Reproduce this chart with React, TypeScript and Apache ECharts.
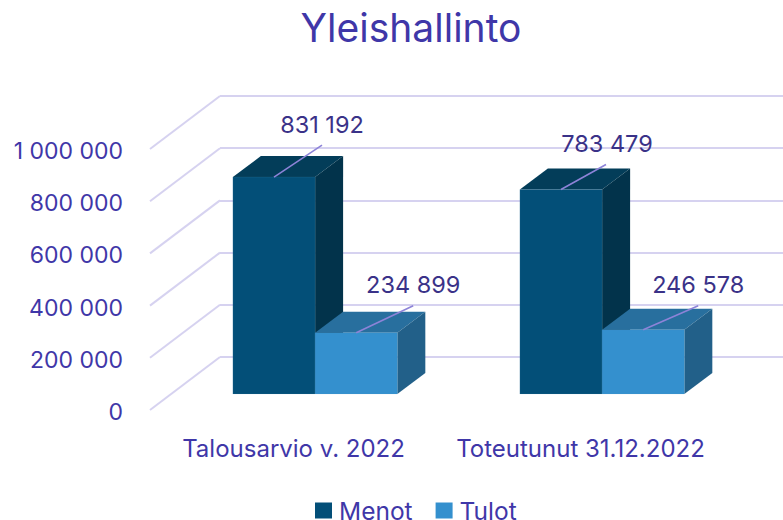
import React, { useEffect, useRef } from "react";
import * as echarts from "echarts";

const titleText = "Yleishallinto";
const categories = ["Talousarvio v. 2022", "Toteutunut 31.12.2022"];
const menot = [831192, 783479];
const tulot = [234899, 246578];
const tickValues = [0, 200000, 400000, 600000, 800000, 1000000];

const FONT = "Inter";
const TEXT = "#3f37a8";
const LABEL = "#3a3288";
const GRID = "#d6d2f0";
const LEADER = "#8d83d8";
const WALL = [70, -53];
const FLOOR = [21.6, -16];
const DEPTH = [28, -21];
const BAR_RATIO = 0.2865;

const spaced = (v: number) => String(v).replace(/\B(?=(\d{3})+(?!\d))/g, " ");

// leader end and label centre relative to the front-top centre of each bar
const menotLeader = [[48, -32, 48, -53], [45, -25, 46, -46]];
const tulotLeader = [[57, -27, 57, -48], [55, -24, 55, -45]];

function barRenderer(side: -1 | 1, colors: string[], leaders: number[][]) {
  return (params: any, api: any) => {
    const i = api.value(0);
    const v = api.value(1);
    const w = api.size([1, 0])[0] * BAR_RATIO;
    const top = api.coord([i, v]);
    const base = api.coord([i, 0]);
    const x0 = top[0] + FLOOR[0] + (side < 0 ? -w : 0);
    const x1 = x0 + w;
    const yT = top[1] + FLOOR[1];
    const yB = base[1] + FLOOR[1];
    const [dx, dy] = DEPTH;
    const cx = (x0 + x1) / 2;
    const l = leaders[i];
    return {
      type: "group",
      children: [
        { type: "polygon", shape: { points: [[x0, yT], [x1, yT], [x1 + dx, yT + dy], [x0 + dx, yT + dy]] }, style: { fill: colors[1] } },
        { type: "polygon", shape: { points: [[x1, yT], [x1 + dx, yT + dy], [x1 + dx, yB + dy], [x1, yB]] }, style: { fill: colors[2] } },
        { type: "rect", shape: { x: x0, y: yT, width: w, height: yB - yT }, style: { fill: colors[0], stroke: "rgba(120,170,200,0.2)", lineWidth: 0.6 } },
        { type: "line", shape: { x1: cx, y1: yT, x2: cx + l[0], y2: yT + l[1] }, style: { stroke: LEADER, lineWidth: 1.6 } },
        { type: "text", x: cx + l[2], y: yT + l[3], style: { text: spaced(v), fill: LABEL, font: `400 23.5px ${FONT}`, align: "center", verticalAlign: "middle" } },
      ],
    };
  };
}

export default function App() {
  const ref = useRef<HTMLDivElement>(null);
  useEffect(() => {
    document.body.style.margin = "0";
    const chart = echarts.init(ref.current!, undefined, { renderer: "svg" });
    chart.setOption({
      animation: false,
      textStyle: { fontFamily: FONT },
      title: {
        text: titleText,
        left: 406,
        top: 3,
        textAlign: "center",
        textStyle: { color: TEXT, fontSize: 39, fontWeight: 400, fontFamily: FONT },
      },
      legend: {
        left: 315,
        top: 498,
        padding: 0,
        itemWidth: 17,
        itemHeight: 16,
        itemGap: 23,
        textStyle: { color: TEXT, fontSize: 24.5, lineHeight: 17, fontFamily: FONT, padding: [0, 0, 0, 2] },
        data: [
          { name: "Menot", icon: "rect", itemStyle: { color: "#034f78" } },
          { name: "Tulot", icon: "rect", itemStyle: { color: "#3490ce" } },
        ],
      },
      grid: [
        { left: 150, top: 149, width: 574, height: 261 },
        { left: 220, top: 96, right: 0, height: 261 },
      ],
      xAxis: [
        {
          type: "category",
          gridIndex: 0,
          data: categories,
          axisLine: { show: false },
          axisTick: { show: false },
          axisLabel: { interval: 0, margin: 26, color: TEXT, fontSize: 24, fontFamily: FONT },
        },
        { type: "category", gridIndex: 1, data: categories, show: false },
      ],
      yAxis: [
        {
          type: "value",
          gridIndex: 0,
          min: 0,
          max: 1000000,
          interval: 200000,
          splitLine: { show: false },
          axisLine: { show: false },
          axisTick: { show: false },
          axisLabel: {
            margin: 27,
            formatter: (v: number) => `{t|${spaced(v)}}`,
            rich: { t: { color: TEXT, fontSize: 23, fontFamily: FONT, padding: [4, 0, 0, 0] } },
          },
        },
        {
          type: "value",
          gridIndex: 1,
          min: 0,
          max: 1000000,
          interval: 200000,
          axisLine: { show: false },
          axisTick: { show: false },
          axisLabel: { show: false },
          splitLine: { show: true, lineStyle: { color: GRID, width: 2 } },
        },
      ],
      series: [
        {
          type: "custom",
          name: "walls",
          silent: true,
          xAxisIndex: 0,
          yAxisIndex: 0,
          encode: { y: 0 },
          data: tickValues.map((v) => [v]),
          z: 1,
          renderItem: (p: any, api: any) => {
            const a = api.coord([0, api.value(0)]);
            const left = p.coordSys.x;
            return {
              type: "line",
              shape: { x1: left, y1: a[1], x2: left + WALL[0], y2: a[1] + WALL[1] },
              style: { stroke: GRID, lineWidth: 2 },
            };
          },
        },
        {
          type: "custom",
          name: "Menot",
          xAxisIndex: 0,
          yAxisIndex: 0,
          z: 3,
          encode: { x: 0, y: 1 },
          data: menot.map((v, i) => [i, v]),
          itemStyle: { color: "#034f78" },
          renderItem: barRenderer(-1, ["#034f78", "#033d59", "#02334b"], menotLeader),
        },
        {
          type: "custom",
          name: "Tulot",
          xAxisIndex: 0,
          yAxisIndex: 0,
          z: 4,
          encode: { x: 0, y: 1 },
          data: tulot.map((v, i) => [i, v]),
          itemStyle: { color: "#3490ce" },
          renderItem: barRenderer(1, ["#3490ce", "#286f9e", "#226089"], tulotLeader),
        },
      ],
    });
    return () => chart.dispose();
  }, []);
  return <div ref={ref} style={{ width: 783, height: 520 }} />;
}
